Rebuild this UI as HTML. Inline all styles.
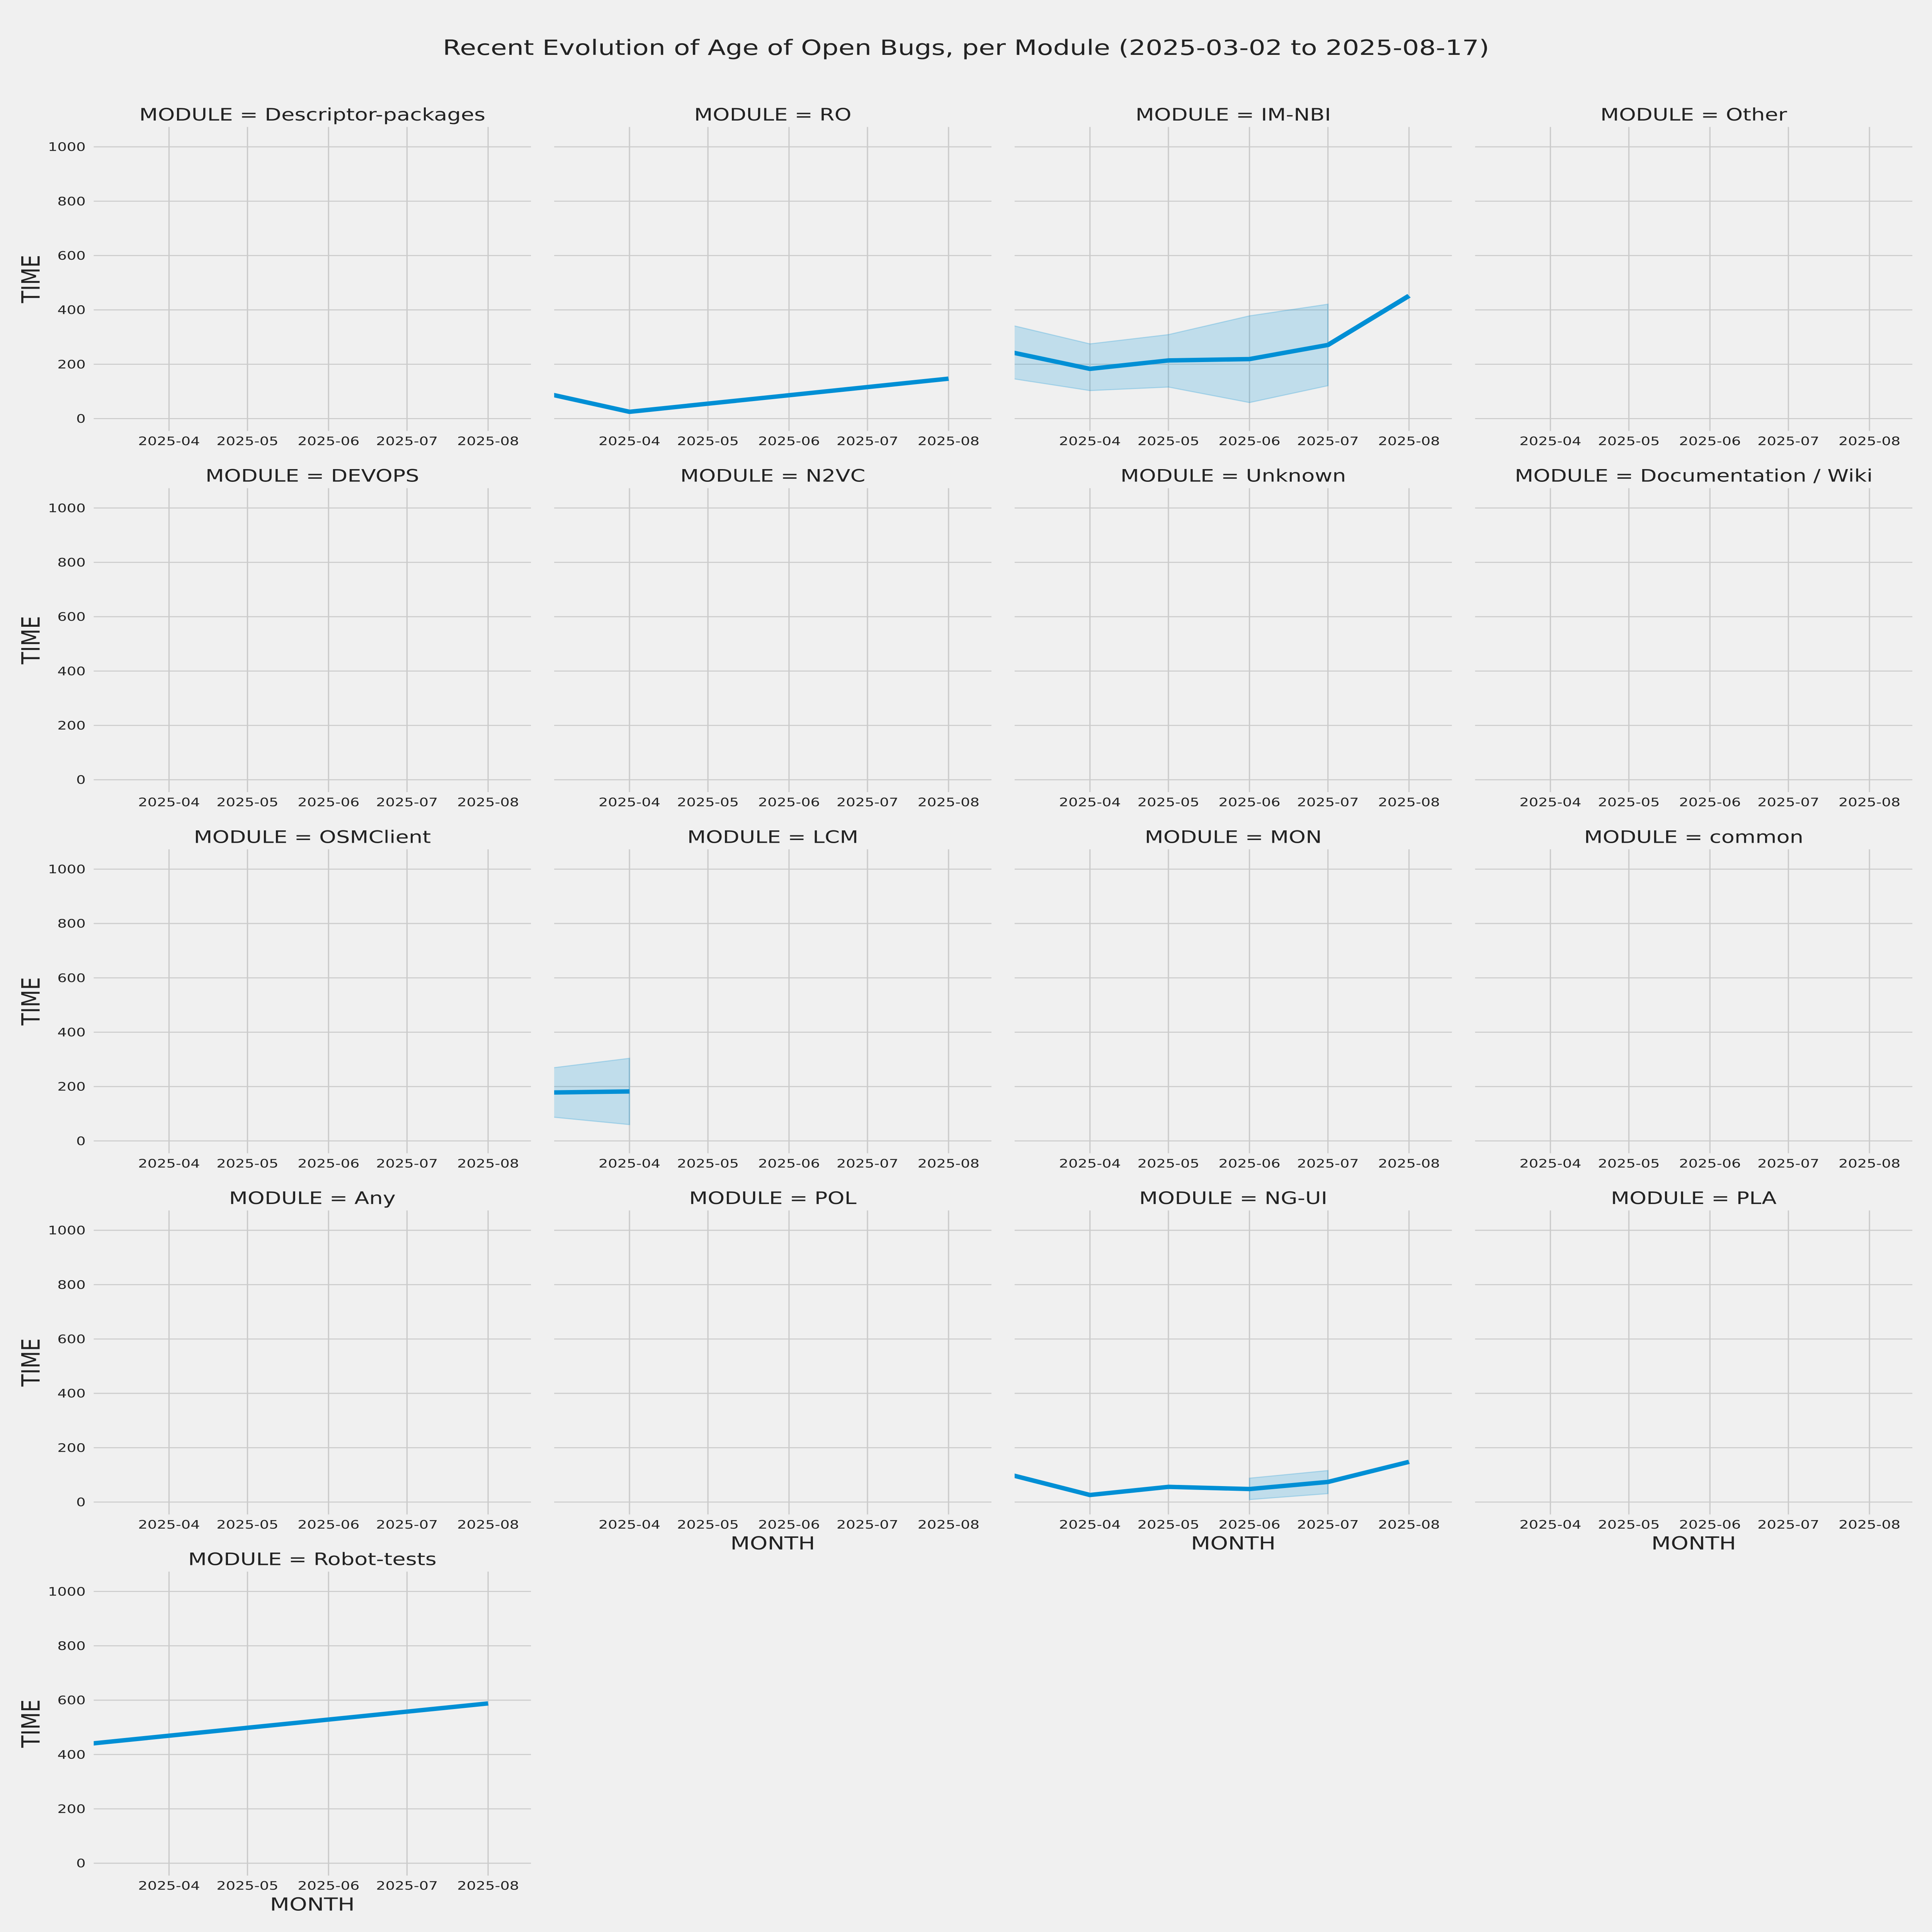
<!DOCTYPE html>
<html><head><meta charset="utf-8">
<style>
html,body{margin:0;padding:0;background:#f0f0f0;width:100%;height:100%;overflow:hidden;}
svg{display:block;width:100vw;height:100vh;font-family:"DejaVu Sans","Liberation Sans",sans-serif;}
</style></head>
<body>
<svg id="chart" viewBox="0 0 6000 7500" preserveAspectRatio="none" xmlns="http://www.w3.org/2000/svg">
<rect x="0" y="0" width="6000" height="7500" fill="#f0f0f0"/>
<text x="3000" y="213" font-size="82" fill="#222" text-anchor="middle">Recent Evolution of Age of Open Bugs, per Module (2025-03-02 to 2025-08-17)</text>
</svg>
<script>
const modules = ["Descriptor-packages","RO","IM-NBI","Other","DEVOPS","N2VC","Unknown","Documentation / Wiki","OSMClient","LCM","MON","common","Any","POL","NG-UI","PLA","Robot-tests"];
const monthDays = [0,31,61,92,122,153];
const tickDays = [31,61,92,122,153];
const tickLabels = ["2025-04","2025-05","2025-06","2025-07","2025-08"];
const yTicks = [0,200,400,600,800,1000];
const roMean = [91,25,null,null,null,147];
const imnbiMean = [246,183,214,219,271,452];
const imnbiHi = [346,275,309,378,421,null];
const imnbiLo = [149,103,116,59,121,null];
const lcmMean = [178,182,null,null,null,null];
const lcmHi = [267,304,null,null,null,null];
const lcmLo = [89,60,null,null,null,null];
const nguiMean = [102,26,56,48,74,148];
const nguiHi = [null,null,null,88,116,null];
const nguiLo = [null,null,null,9,31,null];
const robotMean = [439,null,null,null,null,588];

const series = {
  "RO": {mean: roMean},
  "IM-NBI": {mean: imnbiMean, hi: imnbiHi, lo: imnbiLo},
  "LCM": {mean: lcmMean, hi: lcmHi, lo: lcmLo},
  "NG-UI": {mean: nguiMean, hi: nguiHi, lo: nguiLo},
  "Robot-tests": {mean: robotMean}
};

const NS = "http://www.w3.org/2000/svg";
const svg = document.getElementById("chart");
const colLeft = [291,1721,3151,4581];
const rowY0 = [1625,3027,4429,5831,7233];
const plotW = 1358;
const xMin = 2.2, xMax = 169.4;
const yMin = -45.5, yMax = 1073;
const pxPerUnit = 1.055;

function mk(tag, attrs, parent){
  const e = document.createElementNS(NS, tag);
  for (const k in attrs) e.setAttribute(k, attrs[k]);
  (parent||svg).appendChild(e);
  return e;
}

modules.forEach((name, i) => {
  const r = Math.floor(i/4), c = i%4;
  const left = colLeft[c], y0 = rowY0[r];
  const top = y0 - yMax*pxPerUnit, bottom = y0 - yMin*pxPerUnit;
  const xs = d => left + (d - xMin) / (xMax - xMin) * plotW;
  const ys = v => y0 - v*pxPerUnit;

  const g = mk("g", {});
  
  

  const clipId = "clip"+i;
  const cp = mk("clipPath", {id: clipId}, g);
  mk("rect", {x:left, y:top, width:plotW, height:bottom-top}, cp);

  yTicks.forEach(v => {
    const l = mk("line", {x1:left, x2:left+plotW, y1:ys(v), y2:ys(v), stroke:"#cbcbcb", "stroke-width":4}, g);
    
    
  });
  tickDays.forEach((d, k) => {
    const l = mk("line", {x1:xs(d), x2:xs(d), y1:top, y2:bottom, stroke:"#cbcbcb", "stroke-width":4}, g);
    
    
    const t = mk("text", {x:xs(d), y:bottom+39+16, "font-size":46, fill:"#222", "text-anchor":"middle"}, g);
    t.textContent = tickLabels[k];
    
    
  });
  if (c === 0) {
    yTicks.forEach(v => {
      const t = mk("text", {x:left-25, y:ys(v)+16, "font-size":46, fill:"#222", "text-anchor":"end"}, g);
      t.textContent = String(v);
      
      
    });
    const cy = (top+bottom)/2;
    const t = mk("text", {x:0, y:0, "font-size":78, fill:"#222", "text-anchor":"middle", transform:`translate(${left-168},${cy}) rotate(-90)`}, g);
    t.textContent = "TIME";
    
    
  }
  if (i >= 13) {
    const t = mk("text", {x:left+plotW/2, y:bottom+111+25, "font-size":70, fill:"#222", "text-anchor":"middle"}, g);
    t.textContent = "MONTH";
    
    
  }
  const tt = mk("text", {x:left+plotW/2, y:top-49+24, "font-size":67, fill:"#222", "text-anchor":"middle"}, g);
  tt.textContent = "MODULE = " + name;
  
  

  const s = series[name];
  if (!s) return;
  const dg = mk("g", {"clip-path":`url(#${clipId})`}, g);
  if (s.hi) {
    let seg = [];
    const flush = () => {
      if (seg.length > 1) {
        const pts = seg.map(k => xs(monthDays[k])+","+ys(s.hi[k])).concat(seg.slice().reverse().map(k => xs(monthDays[k])+","+ys(s.lo[k])));
        const p = mk("polygon", {points:pts.join(" "), fill:"#008fd5", "fill-opacity":0.2, stroke:"#008fd5", "stroke-opacity":0.25, "stroke-width":4}, dg);
        
        
      }
      seg = [];
    };
    monthDays.forEach((d,k) => { if (s.hi[k] != null && s.lo[k] != null) seg.push(k); else flush(); });
    flush();
  }
  const pts = [];
  monthDays.forEach((d,k) => { if (s.mean[k] != null) pts.push(xs(d)+","+ys(s.mean[k])); });
  const pl = mk("polyline", {points:pts.join(" "), fill:"none", stroke:"#008fd5", "stroke-width":17, "stroke-linejoin":"round"}, dg);
  
  
});
</script>
</body></html>
